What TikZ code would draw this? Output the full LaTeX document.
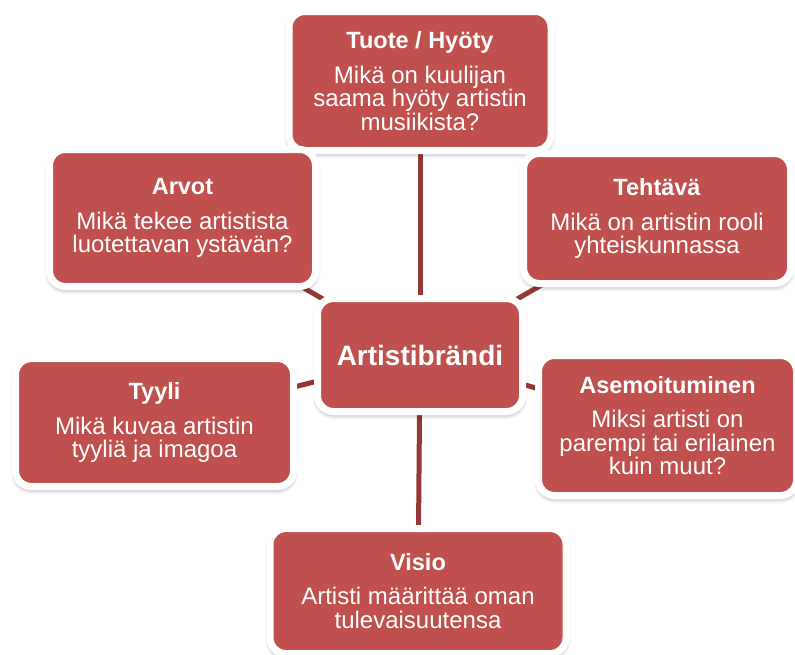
\documentclass[tikz,border=0pt]{standalone}
\usepackage{fontspec}
\setmainfont{Liberation Sans}
\usetikzlibrary{shadows.blur, backgrounds}
\definecolor{brandred}{HTML}{C0504D}
\definecolor{linkred}{HTML}{953735}

\tikzset{
  topic/.style={rectangle, rounded corners=16pt, fill=brandred, draw=white,
    line width=7pt, text=white, align=center, inner sep=0pt,
    font=\fontsize{24}{23.5}\selectfont,
    blur shadow={shadow xshift=0pt, shadow yshift=-3pt,
      shadow blur radius=5pt, shadow opacity=45}},
  hub/.style={topic, font=\bfseries\fontsize{28}{30}\selectfont},
  link/.style={draw=linkred, line width=5pt}
}
\newcommand{\topichead}[1]{{\bfseries\fontsize{23.5}{23.5}\selectfont #1}\\[11pt]}

\begin{document}
\begin{tikzpicture}[x=1pt, y=-1pt]
  \useasboundingbox (0,0) rectangle (795,654);

  % centre
  \node[hub, minimum width=205pt, minimum height=113pt] (brandi) at (420,355) {Artistibrändi};

  % topics round the centre
  \node[topic, minimum width=262pt, minimum height=139pt] (tuote) at (420,81)
    {\topichead{Tuote / Hyöty}Mikä on kuulijan\\ saama hyöty artistin\\ musiikista?};
  \node[topic, minimum width=266pt, minimum height=137pt] (arvot) at (182.5,218)
    {\topichead{Arvot}Mikä tekee artistista\\ luotettavan ystävän?};
  \node[topic, minimum width=267pt, minimum height=130pt] (tehtava) at (657,218.5)
    {\topichead{Tehtävä}Mikä on artistin rooli\\ yhteiskunnassa};
  \node[topic, minimum width=278pt, minimum height=128pt] (tyyli) at (154.5,422.5)
    {\topichead{Tyyli}Mikä kuvaa artistin\\ tyyliä ja imagoa};
  \node[topic, minimum width=258pt, minimum height=140pt] (asemo) at (667.5,425.5)
    {\topichead{Asemoituminen}Miksi artisti on\\ parempi tai erilainen\\ kuin muut?};
  \node[topic, minimum width=296pt, minimum height=125pt] (visio) at (418,591)
    {\topichead{Visio}Artisti määrittää oman\\ tulevaisuutensa};

  % spokes
  \begin{scope}[on background layer]
    \foreach \t in {tuote, arvot, tehtava, tyyli, asemo, visio}
      \draw[link] (brandi.center) -- (\t.center);
  \end{scope}
\end{tikzpicture}
\end{document}
